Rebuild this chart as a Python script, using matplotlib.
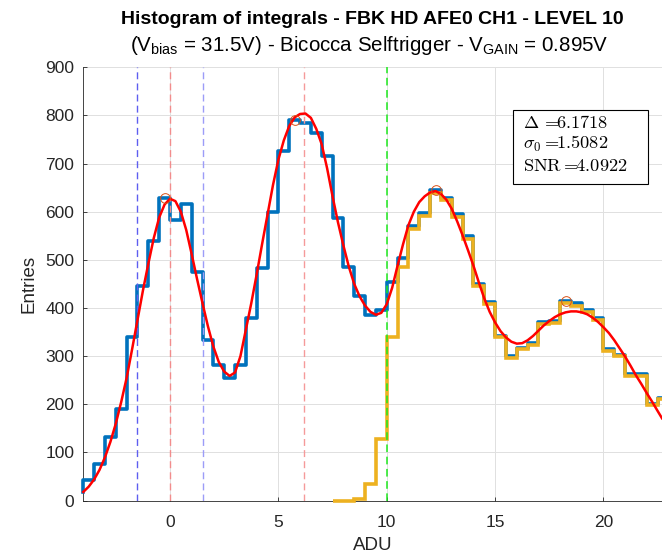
import numpy as np
import matplotlib
matplotlib.use('Agg')
import matplotlib.pyplot as plt
from matplotlib.patches import Rectangle

plt.rcParams['font.family'] = ['Liberation Sans', 'DejaVu Sans']
plt.rcParams['mathtext.fontset'] = 'custom'
plt.rcParams['mathtext.rm'] = 'Liberation Sans'
plt.rcParams['mathtext.it'] = 'Liberation Sans:italic'
plt.rcParams['mathtext.bf'] = 'Liberation Sans:bold'

# histogram of all events, 0.5 ADU bins starting at -4.5
bin_width = 0.5
all_start = -4.5
all_counts = [18, 43, 77, 133, 190, 340, 445, 540, 629, 582,
              616, 474, 334, 282, 254, 282, 379, 483, 599, 726,
              790, 785, 764, 715, 586, 485, 424, 386, 396, 455,
              504, 570, 598, 646, 629, 595, 549, 450, 413, 341,
              300, 317, 327, 371, 373, 414, 410, 396, 380, 314,
              303, 263, 262, 201, 214]

# histogram of selftriggered events, starting at 7.5
trig_start = 7.5
trig_counts = [0, 0, 3, 35, 127, 339, 485, 564, 591, 639,
               624, 590, 543, 445, 409, 339, 297, 314, 324, 367,
               369, 410, 405, 392, 376, 311, 301, 259, 258, 198,
               210]

# fitted curve (every 0.25 ADU)
fit_adu = [-4.0, -3.75, -3.5, -3.25, -3.0, -2.75, -2.5, -2.25, -2.0, -1.75,
           -1.5, -1.25, -1.0, -0.75, -0.5, -0.25, 0.0, 0.25, 0.5, 0.75,
           1.0, 1.25, 1.5, 1.75, 2.0, 2.25, 2.5, 2.75, 3.0, 3.25,
           3.5, 3.75, 4.0, 4.25, 4.5, 4.75, 5.0, 5.25, 5.5, 5.75,
           6.0, 6.25, 6.5, 6.75, 7.0, 7.25, 7.5, 7.75, 8.0, 8.25,
           8.5, 8.75, 9.0, 9.25, 9.5, 9.75, 10.0, 10.25, 10.5, 10.75,
           11.0, 11.25, 11.5, 11.75, 12.0, 12.25, 12.5, 12.75, 13.0, 13.25,
           13.5, 13.75, 14.0, 14.25, 14.5, 14.75, 15.0, 15.25, 15.5, 15.75,
           16.0, 16.25, 16.5, 16.75, 17.0, 17.25, 17.5, 17.75, 18.0, 18.25,
           18.5, 18.75, 19.0, 19.25, 19.5, 19.75, 20.0, 20.25, 20.5, 20.75,
           21.0, 21.25, 21.5, 21.75, 22.0, 22.25, 22.5, 22.7]
fit_val = [18, 29, 44, 64, 90, 122, 160, 205, 255, 314,
           375, 436, 492, 545, 588, 615, 627, 622, 600, 562,
           512, 460, 410, 362, 320, 288, 268, 259, 266, 300,
           355, 410, 470, 533, 594, 655, 708, 748, 778, 796,
           803, 804, 795, 772, 740, 690, 632, 578, 530, 486,
           450, 424, 405, 392, 386, 390, 408, 442, 488, 532,
           572, 600, 620, 632, 640, 643, 637, 625, 606, 580,
           551, 520, 488, 453, 420, 392, 370, 352, 339, 330,
           326, 327, 333, 342, 353, 364, 373, 381, 387, 391,
           393, 393, 391, 387, 380, 371, 360, 348, 333, 316,
           299, 280, 260, 242, 223, 205, 186, 171]

# peaks found on the histogram
peak_adu = [-0.25, 5.75, 12.25, 18.25]
peak_val = [629, 790, 646, 414]

# fit results
pedestal = 0.0
delta = 6.1718
sigma0 = 1.5082
snr = 4.0922
threshold = 10.0

fig = plt.figure(figsize=(6.62, 5.56), dpi=100)
ax = fig.add_axes([83.3 / 662, 55.4 / 556, 578.7 / 662, 433.3 / 556])

all_edges = all_start + bin_width * np.arange(len(all_counts) + 1)
trig_edges = trig_start + bin_width * np.arange(len(trig_counts) + 1)

ax.step(all_edges[1:], all_counts, where='pre', color='#0072BD', lw=2.6,
        clip_on=False, zorder=3)
ax.stairs(trig_counts, trig_edges, baseline=None, color='#EDB120', lw=2.6,
          clip_on=False, zorder=4)

# reference lines
dash = (5, 3)
ax.axvline(-sigma0, color='#5e5ef0', lw=1.0, dashes=dash, zorder=5)
ax.axvline(sigma0, color='#9c9cf8', lw=1.0, dashes=dash, zorder=5)
ax.axvline(pedestal, color='#f28c8c', lw=1.0, dashes=dash, zorder=5)
ax.axvline(delta, color='#f59a9a', lw=1.0, dashes=dash, zorder=5)
ax.axvline(threshold, color='#1ee81e', lw=1.1, dashes=dash, zorder=5)

ax.plot(fit_adu, fit_val, color='red', lw=1.8, clip_on=False, zorder=6)
ax.plot(peak_adu, peak_val, 'o', mfc='none', mec='#D95319', ms=7, mew=0.7,
        zorder=7)

ax.set_xlim(-4.0, 22.7)
ax.set_ylim(0, 900)
ax.set_xticks([0, 5, 10, 15, 20])
ax.set_yticks(np.arange(0, 901, 100))
ax.tick_params(direction='in', length=3, width=0.6, labelsize=12.5,
               colors='#262626')
ax.tick_params(axis='x', pad=10.5)
ax.tick_params(axis='y', pad=6.5)
ax.grid(True, color='#e0e0e0', lw=0.7)
ax.set_axisbelow(True)
for s in ['top', 'right']:
    ax.spines[s].set_visible(False)
for s in ['left', 'bottom']:
    ax.spines[s].set_color('#262626')
    ax.spines[s].set_linewidth(0.6)

ax.set_xlabel('ADU', fontsize=13.5, color='#262626')
ax.set_ylabel('Entries', fontsize=13.5, color='#262626')
ax.xaxis.set_label_coords(0.5, -0.084)
ax.yaxis.set_label_coords(-0.079, 0.5)

# fit results box
ax.add_patch(Rectangle((0.7431, 0.730), 0.2332, 0.1708, transform=ax.transAxes,
                       facecolor='white', edgecolor='black', lw=0.8, zorder=8))
box_lines = [r'$\Delta\, =\!\!%.4f$' % delta,
             r'$\sigma_0 =\!\!%.4f$' % sigma0,
             r'$\mathrm{SNR} =\!\!%.4f$' % snr]
for txt, yb in zip(box_lines, [0.8606, 0.8114, 0.7614]):
    ax.text(0.7593, yb, txt, transform=ax.transAxes, fontsize=13.2,
            va='baseline', ha='left', math_fontfamily='cm', zorder=9)

fig.text(0.5629, 1 - 24 / 556, 'Histogram of integrals - FBK HD AFE0 CH1 - LEVEL 10',
         ha='center', va='baseline', fontsize=14, weight='bold')
fig.text(0.558, 1 - 51 / 556,
         r'(V$_{\mathrm{bias}}$ = 31.5V) - Bicocca Selftrigger - V$_{\mathrm{GAIN}}$ = 0.895V',
         ha='center', va='baseline', fontsize=14.8)

fig.savefig('out.png', dpi=100)
